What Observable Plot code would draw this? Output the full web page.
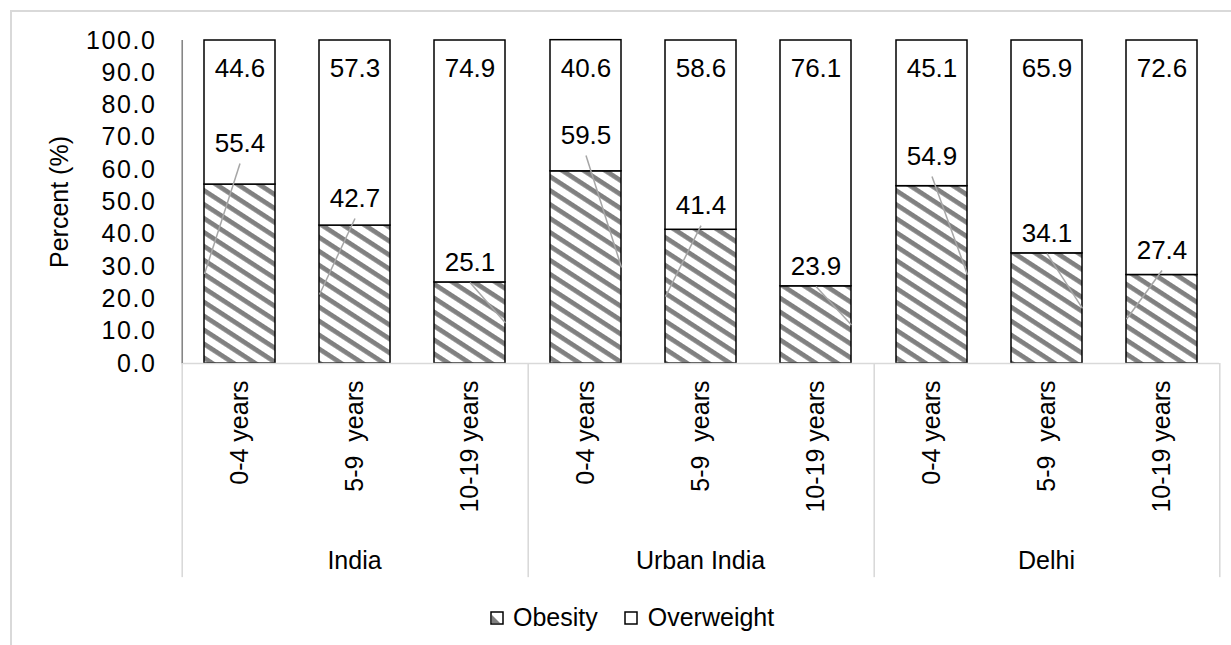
<!DOCTYPE html>
<html>
<head>
<meta charset="utf-8">
<script src="https://cdn.jsdelivr.net/npm/d3@7"></script>
<script src="https://cdn.jsdelivr.net/npm/@observablehq/plot@0.6"></script>
<style>
  html, body { margin: 0; padding: 0; background: #fff; }
  body { width: 1231px; height: 645px; position: relative; overflow: hidden; font-family: "Liberation Sans", Arial, sans-serif; }
  #chart { position: absolute; left: 0; top: 0; }
  #chart svg text { white-space: pre; }
  #chart svg g[aria-label="y-axis tick label"] text { letter-spacing: 1.6px; }
  #frame { position: absolute; left: 10px; top: 10px; width: 1221px; height: 700px; border-top: 2px solid #d9d9d9; border-left: 2px solid #d9d9d9; box-sizing: border-box; pointer-events: none; }
  #legend { position: absolute; left: 490px; top: 603px; display: flex; align-items: center; font-size: 25px; color: #000; white-space: nowrap; }
  #legend .item { display: flex; align-items: center; }
  #legend svg { display: block; }
</style>
</head>
<body>
<div id="chart"></div>
<div id="frame"></div>
<div id="legend"></div>
<script>
// ---- data ----
const groups = ["India", "Urban India", "Delhi"];
const ages = ["0-4 years", "5-9  years", "10-19 years"];
const seriesNames = ["Obesity", "Overweight"];
const obesity    = [55.4, 42.7, 25.1, 59.5, 41.4, 23.9, 54.9, 34.1, 27.4];
const overweight = [44.6, 57.3, 74.9, 40.6, 58.6, 76.1, 45.1, 65.9, 72.6];
// where the (dragged) Obesity data labels sit, in percent units
const obesityLabelAt = [68.1, 51.1, 31.3, 70.6, 48.9, 30.0, 64.1, 40.2, 35.0];
// which bar edge each leader line points to (-1 left, +1 right)
const leaderSide = [-1, -1, 1, 1, -1, 1, 1, 1, -1];
const yTicks = [0, 10, 20, 30, 40, 50, 60, 70, 80, 90, 100];

const rows = obesity.map((v, i) => ({
  group: groups[Math.floor(i / 3)],
  age: ages[i % 3],
  obesity: v,
  overweight: overweight[i],
  labelAt: obesityLabelAt[i],
  side: leaderSide[i]
}));

const W = 1231, H = 590, mL = 180, mR = 11, mT = 40, mB = 227;
const step = (W - mL - mR) / (groups.length * ages.length);
const font = "'Liberation Sans', Arial, sans-serif";

const hatchDefs = () => {
  const defs = d3.create("svg:defs");
  const p = defs.append("pattern")
    .attr("id", "hatch").attr("patternUnits", "userSpaceOnUse")
    .attr("width", 11.7).attr("height", 11.7)
    .attr("patternTransform", "rotate(33)");
  p.append("rect").attr("width", 11.7).attr("height", 11.7).attr("fill", "#fff");
  p.append("rect").attr("width", 11.7).attr("height", 4.7).attr("fill", "#808080");
  return defs.node();
};

const leaderRender = (index, scales, values, dimensions, context, next) => {
  const bwRaw = scales.x && scales.x.bandwidth;
  const bw = typeof bwRaw === "function" ? bwRaw() : (bwRaw || 0);
  const x2 = Array.from(values.x2, (v, i) => v + rows[i].side * bw / 2);
  const y1 = Array.from(values.y1, (v) => v + 20);
  return next(index, scales, {...values, x2, y1}, dimensions, context);
};

const chart = Plot.plot({
  width: W, height: H,
  marginLeft: mL, marginRight: mR, marginTop: mT, marginBottom: mB,
  style: {fontFamily: font, fontSize: "25px", color: "#000", background: "transparent"},
  fx: {domain: groups, padding: 0, label: null},
  x: {domain: ages, paddingInner: 0.385, paddingOuter: 0.1925, label: null},
  y: {domain: [0, 100], label: null},
  marks: [
    hatchDefs,
    // stacked bars
    Plot.barY(rows, {fx: "group", x: "age", y1: 0, y2: "obesity", fill: "url(#hatch)", stroke: "#000", strokeWidth: 1.5}),
    Plot.barY(rows, {fx: "group", x: "age", y1: "obesity", y2: (d) => d.obesity + d.overweight, fill: "#fff", stroke: "#000", strokeWidth: 1.5}),
    // category axis baseline
    Plot.ruleY([0], {stroke: "#d9d9d9", strokeWidth: 1.6}),
    // group separators below the axis
    Plot.ruleX(groups.map((g) => ({group: g})), {fx: "group", x: () => ages[0], y1: 0, y2: -66.3, dx: -step / 2, stroke: "#d9d9d9", strokeWidth: 1.6}),
    Plot.ruleX([{group: groups[groups.length - 1]}], {fx: "group", x: () => ages[ages.length - 1], y1: 0, y2: -66.3, dx: step / 2, stroke: "#d9d9d9", strokeWidth: 1.6}),
    // value axis line
    Plot.ruleX([{group: groups[0]}], {fx: "group", x: () => ages[0], y1: 0, y2: 100, dx: -step / 2, stroke: "#868686", strokeWidth: 1.6}),
    // leader lines
    Plot.link(rows, {fx: "group", x1: "age", x2: "age", y1: "labelAt", y2: (d) => d.obesity / 2, stroke: "#a6a6a6", strokeWidth: 1.5, render: leaderRender}),
    // data labels
    Plot.text(rows, {fx: "group", x: "age", y: (d) => d.obesity + d.overweight, dy: 28, text: (d) => d.overweight.toFixed(1), fontSize: 26, fill: "#000"}),
    Plot.text(rows, {fx: "group", x: "age", y: "labelAt", text: (d) => d.obesity.toFixed(1), fontSize: 26, fill: "#000"}),
    // axes
    Plot.axisY({ticks: yTicks, tickFormat: (d) => d.toFixed(1), tickSize: 0, tickPadding: 25, fontSize: 25,
      label: "Percent (%)", labelAnchor: "center", labelArrow: "none", labelOffset: 131}),
    Plot.axisX({tickRotate: -90, tickSize: 0, tickPadding: 17, fontSize: 25, label: null}),
    Plot.axisFx({anchor: "bottom", tickSize: 0, tickPadding: 188, fontSize: 25, label: null})
  ]
});
document.getElementById("chart").appendChild(chart);

// ---- legend ----
const legend = d3.select("#legend");
seriesNames.forEach((name, i) => {
  const item = legend.append("div").attr("class", "item").style("margin-left", i ? "26px" : "0px");
  const sw = item.append("svg").attr("width", 14).attr("height", 14).style("margin-right", i ? "10px" : "9px");
  sw.append("rect").attr("x", 1).attr("y", 1).attr("width", 12).attr("height", 12)
    .attr("fill", "#fff").attr("stroke", "#000").attr("stroke-width", 1.5);
  if (i === 0) {
    sw.append("path").attr("d", "M2,4 L10,12 L2,12 Z").attr("fill", "#808080");
  }
  item.append("span").text(name);
});
</script>
</body>
</html>
